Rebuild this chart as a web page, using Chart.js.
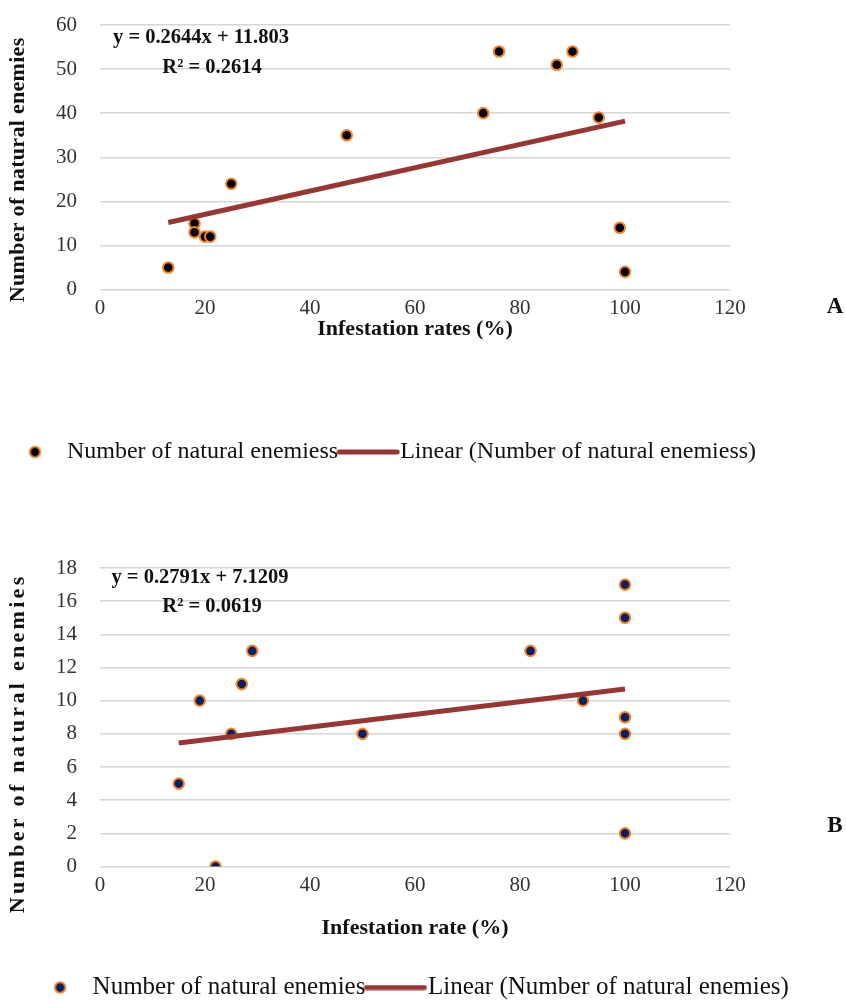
<!DOCTYPE html>
<html>
<head>
<meta charset="utf-8">
<script src="https://cdn.jsdelivr.net/npm/chart.js@4.4.1/dist/chart.umd.min.js"></script>
<style>
  html, body { margin: 0; padding: 0; background: #fff; overflow: hidden; }
  .box { position: absolute; left: 0; width: 846px; }
  #boxA { top: 0; }
  #boxB { top: 500px; }
</style>
</head>
<body>
<div class="box" id="boxA"><canvas id="chartA" width="846" height="500"></canvas></div>
<div class="box" id="boxB"><canvas id="chartB" width="846" height="510"></canvas></div>
<script>
// chart A
const rateA = [13, 18, 18, 20, 21, 25, 47, 73, 76, 87, 90, 95, 99, 100];
const enemiesA = [5, 15, 13, 12, 12, 24, 35, 40, 54, 51, 54, 39, 14, 4];
const trendXA = [13, 100];
const trendYA = [15.2, 38.2];
const yTicksA = { min: 0, max: 60, step: 10 };

// chart B
const rateB = [15, 19, 22, 25, 27, 29, 50, 82, 92, 100, 100, 100, 100, 100];
const enemiesB = [5, 10, 0, 8, 11, 13, 8, 13, 10, 17, 15, 9, 8, 2];
const trendXB = [15, 100];
const trendYB = [7.45, 10.7];
const yTicksB = { min: 0, max: 18, step: 2 };

const xTicks = { min: 0, max: 120, step: 20 };

const ORANGE = '#EE8434';
const TREND = '#953735';
const SERIF = '"Liberation Serif", "Times New Roman", serif';

Chart.defaults.font.family = SERIF;
Chart.defaults.color = '#222';

function dotImage(fill) {
    const c = document.createElement('canvas');
    c.width = 15; c.height = 15;
    const g = c.getContext('2d');
    g.beginPath();
    g.arc(7.5, 7.5, 5.2, 0, Math.PI * 2);
    g.fillStyle = fill;
    g.fill();
    g.lineWidth = 2;
    g.strokeStyle = ORANGE;
    g.stroke();
    return c;
}

function lineImage() {
    const c = document.createElement('canvas');
    c.width = 64; c.height = 6;
    const g = c.getContext('2d');
    g.strokeStyle = TREND;
    g.lineWidth = 5;
    g.lineCap = 'round';
    g.beginPath();
    g.moveTo(3, 3);
    g.lineTo(61, 3);
    g.stroke();
    return c;
}

function toPoints(xs, ys) {
    return xs.map((x, i) => ({ x: x, y: ys[i] }));
}

// equation text, panel letters and the letter-spaced y titles
const notesPlugin = {
    id: 'notes',
    afterDraw(chart, args, opts) {
        const ctx = chart.ctx;
        (opts.items || []).forEach(t => {
            ctx.save();
            ctx.fillStyle = '#111';
            ctx.textAlign = 'center';
            ctx.textBaseline = 'middle';
            ctx.font = t.font;
            if (t.spacing) ctx.letterSpacing = t.spacing + 'px';
            ctx.translate(t.x, t.y);
            if (t.rotate) ctx.rotate(t.rotate);
            ctx.fillText(t.text, t.spacing ? t.spacing / 2 : 0, 0);
            ctx.restore();
        });
    }
};

function makeChart(canvasId, cfg) {
    const ctx = document.getElementById(canvasId).getContext('2d');
    return new Chart(ctx, {
        type: 'scatter',
        data: {
            datasets: [{
                label: cfg.seriesLabel,
                data: toPoints(cfg.xs, cfg.ys),
                pointRadius: 5.3,
                pointHoverRadius: 5.3,
                pointBackgroundColor: cfg.dotColor,
                pointBorderColor: ORANGE,
                pointBorderWidth: 2,
                legendIcon: dotImage(cfg.dotColor),
                order: 2
            }, {
                label: 'Linear (' + cfg.seriesLabel + ')',
                data: toPoints(cfg.trendX, cfg.trendY),
                showLine: true,
                borderColor: TREND,
                borderWidth: 5,
                borderCapStyle: 'butt',
                pointRadius: 0,
                fill: false,
                legendIcon: lineImage(),
                order: 1
            }]
        },
        options: {
            responsive: false,
            animation: false,
            layout: { padding: cfg.padding },
            plugins: {
                tooltip: { enabled: false },
                legend: {
                    position: 'bottom',
                    labels: {
                        usePointStyle: true,
                        pointStyleWidth: 40,
                        boxHeight: 10,
                        padding: 10,
                        color: '#111',
                        font: { size: cfg.legendSize },
                        generateLabels: chart => chart.data.datasets.map((ds, i) => ({
                            text: ds.label,
                            pointStyle: ds.legendIcon,
                            datasetIndex: i,
                            hidden: false,
                            fontColor: '#111',
                            lineWidth: 0
                        }))
                    }
                },
                notes: { items: cfg.notes }
            },
            scales: {
                x: {
                    type: 'linear',
                    min: xTicks.min,
                    max: xTicks.max,
                    ticks: { stepSize: xTicks.step, padding: 8, color: '#333', font: { size: 21, lineHeight: 1 } },
                    grid: { display: false, drawTicks: false },
                    border: { display: false },
                    title: {
                        display: true,
                        text: cfg.xTitle,
                        color: '#111',
                        font: { size: 22, weight: 'bold', lineHeight: 1 },
                        padding: cfg.xTitlePad
                    }
                },
                y: {
                    min: cfg.yTicks.min,
                    max: cfg.yTicks.max,
                    ticks: { stepSize: cfg.yTicks.step, padding: 2, color: '#333', font: { size: 21, lineHeight: 1 } },
                    // invisible tick marks give the gap between labels and grid
                    grid: { color: '#d6d6d6', lineWidth: 1.5, drawTicks: true, tickLength: 21, tickColor: 'rgba(0,0,0,0)' },
                    border: { display: false },
                    // title keeps its room in the layout; the visible one is drawn by notesPlugin
                    title: {
                        display: true,
                        text: 'Number of natural enemies',
                        color: 'rgba(0,0,0,0)',
                        font: { size: 22, weight: 'bold', lineHeight: 1 },
                        padding: { top: 7, bottom: 25 }
                    }
                },
                pad: {
                    type: 'linear',
                    position: 'right',
                    grid: { display: false },
                    border: { display: false },
                    ticks: { display: false },
                    afterFit: s => { s.width = cfg.rightGap; }
                }
            }
        },
        plugins: [notesPlugin]
    });
}

const eqFont = 'bold 20.5px ' + SERIF;
const letterFont = 'bold 23px ' + SERIF;
const yTitleFont = 'bold 22px ' + SERIF;

makeChart('chartA', {
    xs: rateA, ys: enemiesA, trendX: trendXA, trendY: trendYA, yTicks: yTicksA,
    seriesLabel: 'Number of natural enemiess',
    dotColor: '#000000',
    xTitle: 'Infestation rates (%)',
    xTitlePad: { top: -8, bottom: 89.5 },
    legendSize: 24,
    padding: { top: 25, right: 75, bottom: 26, left: 0 },
    rightGap: 41,
    notes: [
        { text: 'y = 0.2644x + 11.803', x: 201, y: 38, font: eqFont },
        { text: 'R\u00B2 = 0.2614', x: 212, y: 68, font: eqFont },
        { text: 'A', x: 835, y: 307, font: letterFont },
        { text: 'Number of natural enemies', x: 18, y: 170, font: yTitleFont, spacing: 0.3, rotate: -Math.PI / 2 }
    ]
});

makeChart('chartB', {
    xs: rateB, ys: enemiesB, trendX: trendXB, trendY: trendYB, yTicks: yTicksB,
    seriesLabel: 'Number of natural enemies',
    dotColor: '#0B1F5C',
    xTitle: 'Infestation rate (%)',
    xTitlePad: { top: 14, bottom: 25.5 },
    legendSize: 25,
    padding: { top: 68, right: 17, bottom: 0, left: 0 },
    rightGap: 99,
    notes: [
        { text: 'y = 0.2791x + 7.1209', x: 200, y: 78, font: eqFont },
        { text: 'R\u00B2 = 0.0619', x: 212, y: 107, font: eqFont },
        { text: 'B', x: 835, y: 326, font: letterFont },
        { text: 'Number of natural enemies', x: 18, y: 245, font: yTitleFont, spacing: 3.3, rotate: -Math.PI / 2 }
    ]
});
</script>
</body>
</html>
